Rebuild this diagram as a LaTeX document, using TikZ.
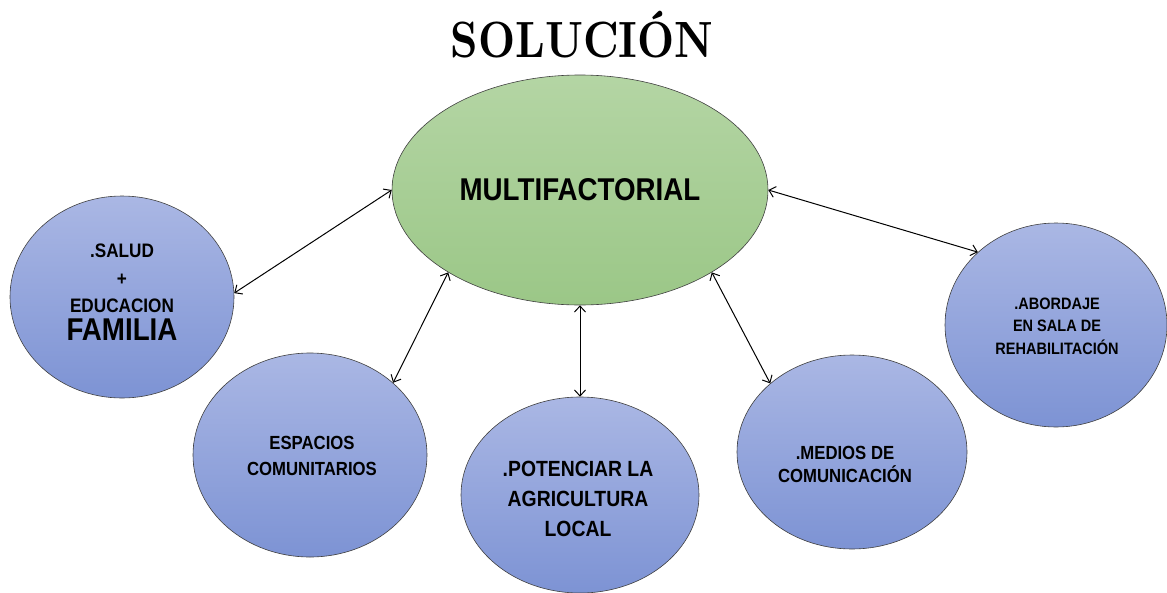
\documentclass[tikz,border=0pt]{standalone}
\usepackage{fontspec}
\newfontfamily\etiqueta{Liberation Sans}[FakeStretch=0.88]
\usetikzlibrary{shapes.geometric,arrows.meta}
\definecolor{verdeArriba}{RGB}{180,213,164}
\definecolor{verdeAbajo}{RGB}{155,199,135}
\definecolor{azulArriba}{RGB}{170,183,228}
\definecolor{azulAbajo}{RGB}{125,147,212}
\tikzset{
	burbuja/.style={ellipse, draw=black!75, line width=0.6pt, inner sep=0pt, top color=azulArriba, bottom color=azulAbajo},
	rotulo/.style={align=center, text=black, inner sep=0pt},
	flecha/.style={{Straight Barb[length=6pt,width=11pt]}-{Straight Barb[length=6pt,width=11pt]}, line width=1pt}
}

\begin{document}
\begin{tikzpicture}[x=1pt, y=-1pt]
			% The canvas keeps the size of the original slide (1167 x 592)
			\useasboundingbox (0, 0) rectangle (1167, 592);

			% Title of the slide, a heavy serif set at 10pt and blown up a bit narrow
			\node[anchor=base, inner sep=0pt] (titulo) at (582, 57) {\scalebox{4.3}[5.1]{\normalsize\bfseries SOLUCI\'ON}};

			% The central green ellipse, every other bubble points to it
			\node[ellipse, draw=black!75, line width=0.6pt, inner sep=0pt, top color=verdeArriba, bottom color=verdeAbajo,
				minimum width=376, minimum height=230, font=\etiqueta\bfseries\fontsize{31.5}{31.5}\selectfont] (centro) at (580, 190) {MULTIFACTORIAL};

			% The five blue bubbles round it, from left to right
			\node[burbuja, minimum width=224, minimum height=202] (familia) at (122, 297) {};
			\node[burbuja, minimum width=234, minimum height=204] (espacios) at (310, 455) {};
			\node[burbuja, minimum width=238, minimum height=196] (agricultura) at (580, 495) {};
			\node[burbuja, minimum width=230, minimum height=194] (medios) at (852, 452) {};
			\node[burbuja, minimum width=222, minimum height=204] (abordaje) at (1056, 325) {};

			% The texts of the blue bubbles
			\node[rotulo, font=\etiqueta\bfseries\fontsize{19.5}{27.5}\selectfont] (familiaT) at (122, 292)
				{.SALUD\\+\\EDUCACION\\\fontsize{31.5}{32.5}\selectfont FAMILIA};
			\node[rotulo, font=\etiqueta\bfseries\fontsize{19}{26}\selectfont] (espaciosT) at (312, 456)
				{ESPACIOS\\COMUNITARIOS};
			\node[rotulo, font=\etiqueta\bfseries\fontsize{22}{30}\selectfont] (agriculturaT) at (578, 499)
				{.POTENCIAR LA\\AGRICULTURA\\LOCAL};
			\node[rotulo, font=\etiqueta\bfseries\fontsize{19}{23}\selectfont] (mediosT) at (845, 464)
				{.MEDIOS DE\\COMUNICACI\'ON};
			\node[rotulo, font=\etiqueta\bfseries\fontsize{16.5}{22.5}\selectfont] (abordajeT) at (1057, 326)
				{.ABORDAJE\\EN SALA DE\\REHABILITACI\'ON};

			% Double headed arrows between the centre and each bubble
			\draw[flecha] (familia.2) -- (centro.180);
			\draw[flecha] (espacios.41) -- (centro.212);
			\draw[flecha] (agricultura.north) -- (centro.south);
			\draw[flecha] (medios.140) -- (centro.328);
			\draw[flecha] (abordaje.137) -- (centro.0);
\end{tikzpicture}
\end{document}
